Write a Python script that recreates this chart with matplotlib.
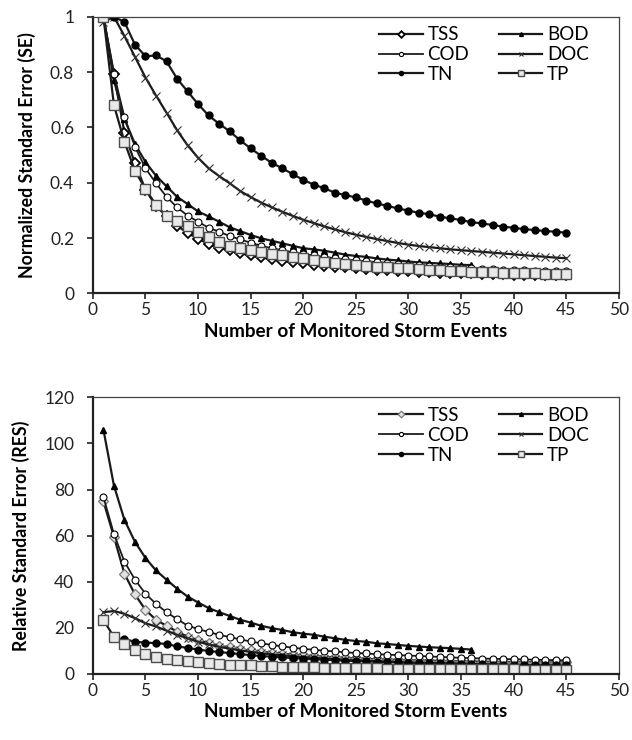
import matplotlib
matplotlib.use("Agg")
import matplotlib.pyplot as plt
from matplotlib.ticker import MultipleLocator
from matplotlib import rcParams

rcParams['font.family'] = ['Lato', 'DejaVu Sans']
rcParams['font.size'] = 12.5

# ---- top panel: normalized standard error (SE) ----
se_tss = [1.0, 0.793, 0.58, 0.47, 0.375, 0.315, 0.28, 0.245, 0.218, 0.198, 0.178, 0.165, 0.155, 0.145, 0.137,
          0.130, 0.124, 0.118, 0.113, 0.108, 0.104, 0.100, 0.097, 0.094, 0.091, 0.088, 0.086, 0.084, 0.082, 0.080,
          0.078, 0.077, 0.075, 0.074, 0.073, 0.072, 0.071, 0.070, 0.069, 0.068, 0.067, 0.067, 0.066, 0.065, 0.065]
se_bod = [1.0, 0.77, 0.63, 0.54, 0.475, 0.425, 0.387, 0.349, 0.323, 0.296, 0.278, 0.259, 0.239, 0.225, 0.211,
          0.199, 0.190, 0.181, 0.172, 0.163, 0.159, 0.154, 0.147, 0.140, 0.135, 0.132, 0.126, 0.122, 0.119, 0.115,
          0.112, 0.110, 0.108, 0.106, 0.103, 0.102]
se_cod = [1.0, 0.794, 0.636, 0.53, 0.452, 0.398, 0.349, 0.311, 0.281, 0.259, 0.237, 0.223, 0.207, 0.195, 0.183,
          0.172, 0.163, 0.156, 0.149, 0.142, 0.137, 0.132, 0.127, 0.123, 0.119, 0.116, 0.113, 0.110, 0.107, 0.104,
          0.102, 0.099, 0.097, 0.095, 0.093, 0.091, 0.089, 0.088, 0.086, 0.085, 0.083, 0.082, 0.081, 0.080, 0.079]
se_doc = [0.98, 1.0, 0.93, 0.855, 0.78, 0.715, 0.653, 0.59, 0.535, 0.49, 0.452, 0.424, 0.398, 0.37, 0.348,
          0.328, 0.311, 0.295, 0.28, 0.266, 0.254, 0.242, 0.231, 0.221, 0.212, 0.204, 0.196, 0.189, 0.182, 0.176,
          0.171, 0.167, 0.163, 0.159, 0.156, 0.153, 0.150, 0.147, 0.144, 0.141, 0.138, 0.135, 0.132, 0.129, 0.127]
se_tn = [1.0, 0.981, 0.899, 0.857, 0.860, 0.839, 0.776, 0.730, 0.684, 0.643, 0.613, 0.586, 0.553, 0.524,
         0.497, 0.472, 0.452, 0.431, 0.410, 0.393, 0.380, 0.364, 0.355, 0.347, 0.335, 0.325, 0.316, 0.307, 0.299,
         0.291, 0.286, 0.277, 0.271, 0.265, 0.257, 0.253, 0.247, 0.241, 0.237, 0.232, 0.229, 0.225, 0.223, 0.219]
se_tp = [1.0, 0.68, 0.548, 0.443, 0.377, 0.319, 0.279, 0.262, 0.243, 0.223, 0.202, 0.187, 0.172, 0.163, 0.157,
         0.150, 0.142, 0.138, 0.132, 0.126, 0.120, 0.114, 0.110, 0.106, 0.103, 0.100, 0.097, 0.094, 0.092, 0.090,
         0.088, 0.086, 0.084, 0.082, 0.080, 0.078, 0.077, 0.076, 0.075, 0.074, 0.073, 0.072, 0.071, 0.070, 0.069]

# ---- bottom panel: relative standard error (RES) ----
res_tss = [74.9, 59.5, 43.5, 34.5, 27.8, 23.5, 20.9, 18.4, 16.2, 14.8, 13.3, 12.2, 11.6, 10.7, 10.2,
           9.7, 9.2, 8.8, 8.4, 8.1, 7.8, 7.5, 7.2, 7.0, 6.8, 6.6, 6.4, 6.3, 6.1, 6.0,
           5.9, 5.8, 5.7, 5.6, 5.5, 5.4, 5.35, 5.3, 5.25, 5.2, 5.15, 5.1, 5.05, 5.0, 5.0]
res_bod = [106.0, 81.7, 66.8, 57.3, 50.3, 44.9, 40.9, 37.0, 33.6, 31.0, 28.6, 26.8, 25.2, 23.5, 22.3,
           20.9, 19.9, 19.1, 18.1, 17.5, 17.0, 16.2, 15.5, 14.8, 14.3, 14.0, 13.3, 13.0, 12.6, 12.2,
           11.9, 11.6, 11.4, 11.2, 10.9, 10.6]
res_cod = [76.8, 60.7, 48.7, 40.9, 34.8, 30.4, 26.8, 23.8, 21.0, 19.5, 18.2, 17.0, 16.0, 15.0, 14.1,
           13.3, 12.6, 12.0, 11.4, 10.9, 10.5, 10.1, 9.8, 9.4, 9.1, 8.9, 8.6, 8.4, 8.2, 8.0,
           7.8, 7.6, 7.4, 7.2, 7.0, 6.9, 6.7, 6.6, 6.5, 6.4, 6.3, 6.2, 6.1, 6.0, 5.9]
res_doc = [26.8, 27.3, 26.1, 24.2, 22.0, 20.6, 18.8, 17.0, 15.5, 14.0, 12.8, 11.8, 11.0, 10.2, 9.6,
           9.0, 8.5, 8.1, 7.7, 7.3, 7.0, 6.7, 6.4, 6.1, 5.9, 5.7, 5.5, 5.3, 5.1, 4.9,
           4.8, 4.7, 4.6, 4.5, 4.4, 4.3, 4.2, 4.1, 4.0, 3.9, 3.8, 3.7, 3.65, 3.6, 3.5]
res_tn = [15.5, 15.1, 14.0, 13.6, 13.4, 13.0, 12.0, 11.3, 10.6, 10.0, 9.5, 9.1, 8.6, 8.2,
          7.8, 7.5, 7.2, 6.9, 6.6, 6.4, 6.2, 6.0, 5.8, 5.6, 5.5, 5.3, 5.2, 5.0, 4.9,
          4.8, 4.7, 4.6, 4.5, 4.4, 4.3, 4.2, 4.1, 4.0, 3.95, 3.9, 3.85, 3.8, 3.75, 3.7]
res_tp = [23.5, 16.0, 12.9, 10.4, 8.8, 7.5, 6.5, 6.0, 5.6, 5.2, 4.8, 4.4, 4.1, 3.9, 3.7,
          3.5, 3.4, 3.2, 3.1, 3.0, 2.9, 2.8, 2.7, 2.6, 2.5, 2.45, 2.4, 2.35, 2.3, 2.25,
          2.2, 2.2, 2.15, 2.1, 2.1, 2.05, 2.0, 2.0, 1.95, 1.95, 1.9, 1.9, 1.85, 1.85, 1.8]

line_col = '#1a1a1a'


def events(values, first=1):
    return list(range(first, first + len(values)))


def drawPanel(ax, data, tss_face, tss_edge, ylim, ystep, ylabel):
    tss, bod, cod, doc, tn, tp = data
    lw = 1.6
    h = {}
    h['TSS'], = ax.plot(events(tss), tss, color=line_col, lw=lw, marker='D', ms=5.6,
                        mfc=tss_face, mec=tss_edge, mew=1.3 if tss_edge == 'black' else 0.9)
    h['BOD'], = ax.plot(events(bod), bod, color=line_col, lw=lw, marker='^', ms=4.6, mfc='black', mec='black')
    h['COD'], = ax.plot(events(cod), cod, color=line_col, lw=lw * 0.8, marker='o', ms=5.0,
                        mfc='white', mec='black', mew=0.8)
    h['DOC'], = ax.plot(events(doc), doc, color=line_col, lw=lw, marker='x', ms=6, mec='#333333', mew=0.8)
    h['TN'], = ax.plot(events(tn, 2), tn, color=line_col, lw=lw, marker='o', ms=5.0, mfc='black', mec='black')
    h['TP'], = ax.plot(events(tp), tp, color=line_col, lw=lw, marker='s', ms=6.5,
                       mfc='#e9e9e9', mec='#4d4d4d', mew=1.0)

    ax.set_xlim(0, 50)
    ax.set_ylim(*ylim)
    ax.xaxis.set_major_locator(MultipleLocator(5))
    ax.yaxis.set_major_locator(MultipleLocator(ystep))
    ax.tick_params(direction='out', length=4.5, width=1.2, color='#222222', labelcolor='#222222')
    ax.tick_params(axis='y', pad=9)
    ax.tick_params(axis='x', pad=2)
    for side in ['left', 'bottom']:
        ax.spines[side].set_linewidth(1.6)
        ax.spines[side].set_color('#222222')
    for side in ['top', 'right']:
        ax.spines[side].set_linewidth(0.9)
        ax.spines[side].set_color('#444444')
    ax.set_xlabel('Number of Monitored Storm Events', fontweight='bold', fontsize=13.6, labelpad=3)
    ax.set_ylabel(ylabel, fontweight='bold', fontsize=12.8, labelpad=10)

    order = ['TSS', 'COD', 'TN', 'BOD', 'DOC', 'TP']
    ax.legend([h[k] for k in order], order, ncol=2, frameon=False, loc='upper left',
              bbox_to_anchor=(0.545, 0.965), borderaxespad=0, borderpad=0,
              fontsize=13.5, handlelength=2.3, handletextpad=0.25, columnspacing=1.6,
              labelspacing=0.15, markerscale=0.6)


fig = plt.figure(figsize=(6.32, 7.4), dpi=100)
ax1 = fig.add_axes([0.147, 0.6036, 0.832, 0.3738])
ax2 = fig.add_axes([0.147, 0.0892, 0.832, 0.3739])

drawPanel(ax1, [se_tss, se_bod, se_cod, se_doc, se_tn, se_tp], 'white', 'black',
          (0, 1), 0.2, 'Normalized Standard Error (SE)')
ax1.set_yticks([0, 0.2, 0.4, 0.6, 0.8, 1.0])
ax1.set_yticklabels(['0', '0.2', '0.4', '0.6', '0.8', '1'])
drawPanel(ax2, [res_tss, res_bod, res_cod, res_doc, res_tn, res_tp], '#e2e2e2', '#7a7a7a',
          (0, 120), 20, 'Relative Standard Error (RES)')

fig.savefig('out.png', dpi=100)
